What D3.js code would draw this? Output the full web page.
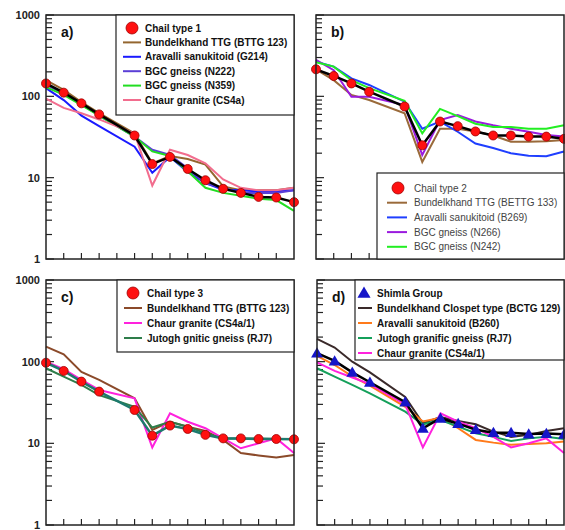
<!DOCTYPE html>
<html>
<head>
<meta charset="utf-8">
<script src="https://cdn.jsdelivr.net/npm/d3@7"></script>
<style>
  body { margin: 0; background: #fff; }
  text { font-family: "Liberation Sans", Arial, sans-serif; }
</style>
</head>
<body>
<div id="chart"></div>
<script>
// REE spider diagram, chondrite normalised (Pm has no data)
var elements = ['La', 'Ce', 'Pr', 'Nd', 'Pm', 'Sm', 'Eu', 'Gd', 'Tb', 'Dy', 'Ho', 'Er', 'Tm', 'Yb', 'Lu'];
var yTickValues = [1, 10, 100, 1000];

// panel a
var chail1      = [144, 111, 82, 60, null, 33, 14.7, 18, 12.8, 9.3, 7.3, 6.5, 5.8, 5.7, 5.0];
var bundelA     = [158, 120, 85, 62, null, 35, 15, 18.5, 17, 14.5, 7.8, 7.0, 7.0, 7.0, 7.5];
var aravalliA   = [126, 90, 58, 43, null, 24, 11.5, 18, 11.8, 8.6, 7.1, 7.0, 6.8, 6.8, 7.0];
var bgcN222     = [138, 108, 80, 58, null, 32, 22, 19, 13, 8.5, 7.5, 6.5, 6.5, 6.5, 7.0];
var bgcN359     = [130, 104, 78, 58, null, 32, 21, 18.5, 12, 7.5, 6.5, 6.0, 5.5, 5.3, 3.9];
var chaurA      = [94, 72, 62, 52, null, 35, 8, 22, 19, 15, 9.5, 7.5, 7.0, 7.0, 7.5];

// panel b
var chail2      = [215, 178, 144, 114, null, 75, 25, 49, 43, 37, 33, 33, 32, 32, 30];
var bundelB     = [215, 158, 104, 90, null, 62, 15.6, 40, 40, 37, 33, 27.7, 27.7, 28, 29];
var aravalliB   = [267, 232, 166, 138, null, 86, 40, 49, 36.7, 26.3, 23.2, 20, 18.6, 18.3, 21];
var bgcN266     = [280, 210, 99, 99, null, 78, 19, 51, 59, 49, 44, 40, 36.7, 33.4, 32];
var bgcN242     = [262, 232, 158, 126, null, 88, 35, 70, 57, 46, 42, 42, 40, 40, 44];

// panel c
var chail3      = [97, 77, 57, 43, null, 25.6, 12.4, 16.5, 15, 12.7, 11.5, 11.5, 11.3, 11.3, 11.2];
var bundelC     = [153, 123, 75, 60, null, 35.6, 14.6, 18.4, 16, 14.2, 11, 7.6, 7.1, 6.7, 7.2];
var chaurC      = [100, 81, 60, 45, null, 35.6, 8.9, 23.3, 18.4, 15.3, 11.5, 8.7, 10, 11.5, 7.6];
var jutoghC     = [83, 65.6, 52, 39, null, 28, 15.6, 18.4, 16, 13.3, 11.5, 11.5, 11.5, 11.3, 11.3];

// panel d
var shimla      = [127, 102, 74, 56, null, 32, 15.3, 20.3, 17.4, 14.7, 13.5, 13.5, 13, 13.2, 12.9];
var closepetD   = [190, 149, 100, 74, null, 37, 17.6, 21, 18.8, 17.1, 13.9, 12, 12.7, 14.2, 15.3];
var aravalliD   = [118, 91, 66, 51, null, 28, 18.5, 20.6, 15.3, 11, 10.2, 9.6, 9.8, 10, 10.5];
var jutoghD     = [83, 65.6, 52, 41, null, 24.4, 17.1, 19.3, 16, 13.3, 12, 10.7, 11.5, 12, 11.3];
var chaurD      = [98, 77, 64, 53, null, 30, 8.9, 23.3, 18.4, 15.3, 12, 8.9, 10, 11.5, 7.6];

var svg = d3.select('#chart').append('svg')
	.attr('width', 565)
	.attr('height', 530);

var panels = [
	{
		label: 'a)', x0: 46, x1: 294, y0: 15, y1: 259, yLabels: true,
		ref: { name: 'Chail type 1', values: chail1, shape: 'circle', line: '#000' },
		series: [
			{ name: 'Bundelkhand TTG (BTTG 123)', values: bundelA, color: '#94662f' },
			{ name: 'Aravalli sanukitoid (G214)', values: aravalliA, color: '#1a1aff' },
			{ name: 'BGC gneiss (N222)', values: bgcN222, color: '#5b3fd6' },
			{ name: 'BGC gneiss (N359)', values: bgcN359, color: '#22dd22' },
			{ name: 'Chaur granite (CS4a)', values: chaurA, color: '#f26d8e' }
		],
		legend: { x: 116, y: 15, w: 178, h: 100, row0: 28, step: 14.4, sym: 16, l0: 7, l1: 25, tx: 29,
			size: 10, bold: true, color: '#111' }
	},
	{
		label: 'b)', x0: 316, x1: 564, y0: 15, y1: 259, yLabels: false,
		ref: { name: 'Chail type 2', values: chail2, shape: 'circle', line: '#000' },
		series: [
			{ name: 'Bundelkhand TTG (BETTG 133)', values: bundelB, color: '#9a6a3a' },
			{ name: 'Aravalli sanukitoid (B269)', values: aravalliB, color: '#1f3fff' },
			{ name: 'BGC gneiss (N266)', values: bgcN266, color: '#9a1ade' },
			{ name: 'BGC gneiss (N242)', values: bgcN242, color: '#22ee22' }
		],
		legend: { x: 377, y: 173, w: 187, h: 86, row0: 188, step: 14.7, sym: 21, l0: 10, l1: 30, tx: 37,
			size: 10, bold: false, color: '#444' }
	},
	{
		label: 'c)', x0: 46, x1: 294, y0: 280, y1: 525, yLabels: true,
		ref: { name: 'Chail type 3', values: chail3, shape: 'circle', line: '#1d7a6e' },
		series: [
			{ name: 'Bundelkhand TTG (BTTG 123)', values: bundelC, color: '#8b4a2a' },
			{ name: 'Chaur granite (CS4a/1)', values: chaurC, color: '#ff22dd' },
			{ name: 'Jutogh gnitic gneiss (RJ7)', values: jutoghC, color: '#2e7d4a' }
		],
		legend: { x: 117, y: 280, w: 177, h: 72, row0: 293, step: 15, sym: 16, l0: 7, l1: 25, tx: 30,
			size: 10, bold: true, color: '#111' }
	},
	{
		label: 'd)', x0: 317, x1: 564, y0: 280, y1: 525, yLabels: false,
		ref: { name: 'Shimla Group', values: shimla, shape: 'triangle', line: '#000' },
		series: [
			{ name: 'Bundelkhand Clospet type (BCTG 129)', values: closepetD, color: '#3a2a2a' },
			{ name: 'Aravalli sanukitoid (B260)', values: aravalliD, color: '#ff7a1a' },
			{ name: 'Jutogh granific gneiss (RJ7)', values: jutoghD, color: '#14a05a' },
			{ name: 'Chaur granite (CS4a/1)', values: chaurD, color: '#ff22dd' }
		],
		legend: { x: 355, y: 280, w: 209, h: 80, row0: 293, step: 15, sym: 9, l0: 3, l1: 17, tx: 22,
			size: 10, bold: true, color: '#111' }
	}
];

function drawSymbol(g, shape, x, y, size) {
	if (shape === 'circle') {
		g.append('circle')
			.attr('cx', x).attr('cy', y).attr('r', size)
			.attr('fill', '#ff1010')
			.attr('stroke', '#a00000')
			.attr('stroke-width', 0.8);
	} else {
		g.append('path')
			.attr('d', d3.symbol().type(d3.symbolTriangle).size(size * size * 3)())
			.attr('transform', 'translate(' + x + ',' + (y + 1) + ')')
			.attr('fill', '#1515c8');
	}
}

panels.forEach(function(p) {
	var xScale = d3.scalePoint()
		.domain(elements)
		.range([p.x0, p.x1]);

	var yScale = d3.scaleLog()
		.domain([1, 1000])
		.range([p.y1, p.y0]);

	var g = svg.append('g');

	// minor + major ticks on the left axis, pointing inward
	var logTicks = [];
	[1, 10, 100].forEach(function(dec) {
		for (var k = 1; k < 10; k++) logTicks.push(dec * k);
	});
	logTicks.push(1000);

	g.selectAll('.ytick')
		.data(logTicks)
		.enter().append('line')
		.attr('x1', p.x0)
		.attr('x2', function(d) { return p.x0 + (yTickValues.indexOf(d) >= 0 ? 8 : 6); })
		.attr('y1', function(d) { return yScale(d); })
		.attr('y2', function(d) { return yScale(d); })
		.attr('stroke', '#222')
		.attr('stroke-width', 1.2);

	// bottom ticks, pointing up
	g.selectAll('.xtick')
		.data(elements.slice(1, -1))
		.enter().append('line')
		.attr('x1', function(d) { return xScale(d); })
		.attr('x2', function(d) { return xScale(d); })
		.attr('y1', p.y1)
		.attr('y2', p.y1 - 6)
		.attr('stroke', '#222')
		.attr('stroke-width', 1.2);

	if (p.yLabels) {
		g.selectAll('.ylab')
			.data(yTickValues)
			.enter().append('text')
			.attr('x', 40)
			.attr('y', function(d) { return yScale(d) + 4; })
			.attr('text-anchor', 'end')
			.attr('font-size', 11)
			.attr('font-weight', 'bold')
			.attr('fill', '#222')
			.text(function(d) { return d; });
	}

	var line = d3.line()
		.x(function(d) { return xScale(d.e); })
		.y(function(d) { return yScale(d.v); });

	// drop the missing Pm value so the lines join Nd to Sm
	function rows(values) {
		return values
			.map(function(v, i) { return { e: elements[i], v: v }; })
			.filter(function(d) { return d.v != null; });
	}

	p.series.forEach(function(s) {
		g.append('path')
			.attr('d', line(rows(s.values)))
			.attr('fill', 'none')
			.attr('stroke', s.color)
			.attr('stroke-width', 2);
	});

	var refRows = rows(p.ref.values);

	g.append('path')
		.attr('d', line(refRows))
		.attr('fill', 'none')
		.attr('stroke', p.ref.line)
		.attr('stroke-width', 2.5);

	refRows.forEach(function(d) {
		drawSymbol(g, p.ref.shape, xScale(d.e), yScale(d.v), 4.5);
	});

	// frame
	g.append('rect')
		.attr('x', p.x0).attr('y', p.y0)
		.attr('width', p.x1 - p.x0).attr('height', p.y1 - p.y0)
		.attr('fill', 'none')
		.attr('stroke', '#222')
		.attr('stroke-width', 1.5);

	g.append('text')
		.attr('x', p.x0 + 15)
		.attr('y', p.y0 + 22)
		.attr('font-size', 14)
		.attr('font-weight', 'bold')
		.attr('fill', '#111')
		.text(p.label);

	// legend
	var L = p.legend;
	var lg = svg.append('g');
	lg.append('rect')
		.attr('x', L.x).attr('y', L.y)
		.attr('width', L.w).attr('height', L.h)
		.attr('fill', '#fff')
		.attr('stroke', '#222')
		.attr('stroke-width', 1.2);

	var entries = [{ name: p.ref.name, ref: true }].concat(p.series);
	entries.forEach(function(s, i) {
		var cy = L.row0 + i * L.step;
		if (s.ref) {
			drawSymbol(lg, p.ref.shape, L.x + L.sym, cy, p.ref.shape === 'circle' ? 6 : 5);
		} else {
			lg.append('line')
				.attr('x1', L.x + L.l0).attr('x2', L.x + L.l1)
				.attr('y1', cy).attr('y2', cy)
				.attr('stroke', s.color)
				.attr('stroke-width', 2);
		}
		lg.append('text')
			.attr('x', L.x + L.tx)
			.attr('y', cy + 3.5)
			.attr('font-size', L.size)
			.attr('font-weight', L.bold ? 'bold' : 'normal')
			.attr('fill', L.color)
			.text(s.name);
	});
});
</script>
</body>
</html>
